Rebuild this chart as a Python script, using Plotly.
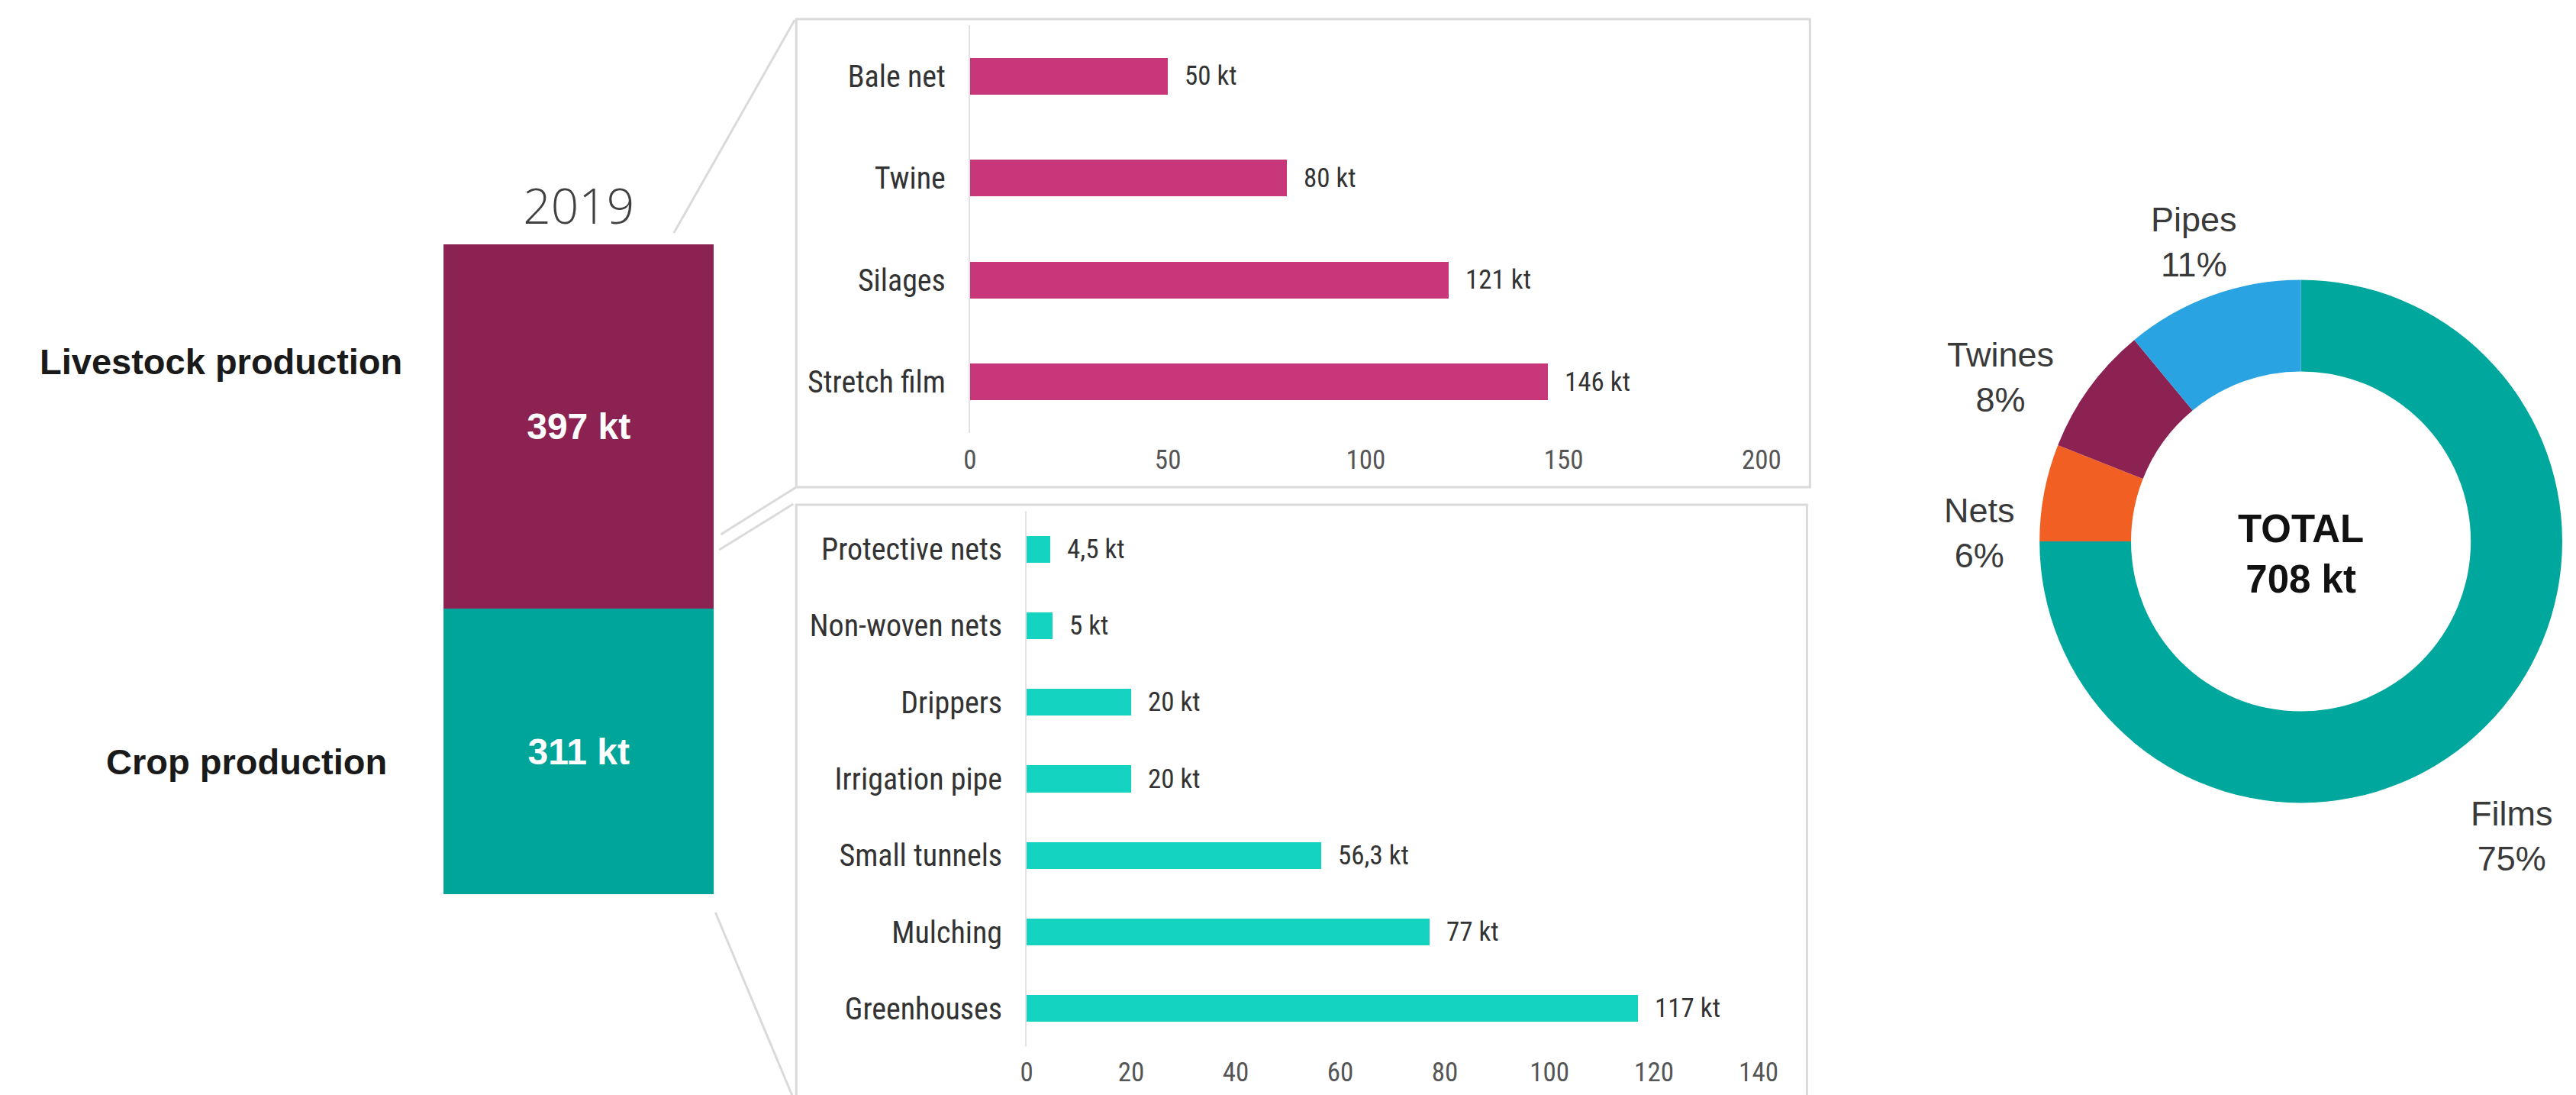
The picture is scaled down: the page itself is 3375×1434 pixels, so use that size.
import plotly.graph_objects as go

W, H = 3375, 1434

# ---------------- data ----------------
year_label = "2019"
stack_categories = ["Crop production", "Livestock production"]
stack_values = [311, 397]
stack_colors = ["#00A599", "#8B2252"]

livestock_items = ["Bale net", "Twine", "Silages", "Stretch film"]
livestock_values = [50, 80, 121, 146]
livestock_text = ["50 kt", "80 kt", "121 kt", "146 kt"]
livestock_ticks = [0, 50, 100, 150, 200]

crop_items = ["Protective nets", "Non-woven nets", "Drippers", "Irrigation pipe",
              "Small tunnels", "Mulching", "Greenhouses"]
crop_values = [4.5, 5, 20, 20, 56.3, 77, 117]
crop_text = ["4,5 kt", "5 kt", "20 kt", "20 kt", "56,3 kt", "77 kt", "117 kt"]
crop_ticks = [0, 20, 40, 60, 80, 100, 120, 140]

pie_labels = ["Films", "Nets", "Twines", "Pipes"]
pie_values = [75, 6, 8, 11]
pie_colors = ["#00A79C", "#F15F22", "#8B2252", "#29A3E1"]

# ---------------- helpers ----------------
def px(x):
    return x / W

def py(y):
    return 1 - y / H

FONT = "Liberation Sans, Arial, sans-serif"
NARROW = "Liberation Sans Narrow, Arial Narrow, Roboto Condensed, Liberation Sans, Arial, sans-serif"
GREY_LINE = "#dadada"

fig = go.Figure()

# ---------------- stacked bar ----------------
for cat, val, col in zip(stack_categories, stack_values, stack_colors):
    fig.add_trace(go.Bar(
        x=[year_label], y=[val], width=[1], name=cat,
        marker=dict(color=col, line=dict(width=0)),
        text=[f"{val} kt"], textposition="inside", insidetextanchor="middle",
        textangle=0,
        textfont=dict(family=FONT, size=48, color="white", weight="bold"),
        xaxis="x", yaxis="y", hoverinfo="skip",
    ))

# ---------------- livestock bars ----------------
fig.add_trace(go.Bar(
    x=livestock_values, y=livestock_items, orientation="h", width=0.36,
    marker=dict(color="#C8377A", line=dict(width=0)),
    xaxis="x2", yaxis="y2", hoverinfo="skip",
))

# ---------------- crop bars ----------------
fig.add_trace(go.Bar(
    x=crop_values, y=crop_items, orientation="h", width=0.35,
    marker=dict(color="#14D3C1", line=dict(width=0)),
    xaxis="x3", yaxis="y3", hoverinfo="skip",
))

# ---------------- donut ----------------
r_out = (W - 2683) / 2
cx = 2683 + r_out
cy = 701
fig.add_trace(go.Pie(
    labels=pie_labels, values=pie_values, sort=False, direction="clockwise",
    rotation=0, hole=0.65, textinfo="none",
    marker=dict(colors=pie_colors, line=dict(width=0)),
    domain=dict(x=[px(2683), 1.0], y=[py(cy + r_out), py(cy - r_out)]),
    hoverinfo="skip",
))

annotations = []
shapes = []

# value labels of the horizontal bars
for v, c, t in zip(livestock_values, livestock_items, livestock_text):
    annotations.append(dict(x=v, y=c, xref="x2", yref="y2", text=t, showarrow=False,
                            xanchor="left", yanchor="middle", xshift=20,
                            font=dict(family=NARROW, size=35, color="#333333")))
for v, c, t in zip(crop_values, crop_items, crop_text):
    annotations.append(dict(x=v, y=c, xref="x3", yref="y3", text=t, showarrow=False,
                            xanchor="left", yanchor="middle", xshift=20,
                            font=dict(family=NARROW, size=35, color="#333333")))

# category labels of the stack
label_pos = {"Livestock production": (517, 465), "Crop production": (497, 989)}
for cat in stack_categories:
    x0, y0 = label_pos[cat]
    annotations.append(dict(x=px(x0), y=py(y0), xref="paper", yref="paper",
                            text=f"<b>{cat}</b>", showarrow=False,
                            xanchor="right", yanchor="middle",
                            font=dict(family=FONT, size=47, color="#1a1a1a")))

# donut labels
pie_pos = {"Films": (3308, 1087), "Nets": (2604, 690), "Twines": (2631, 486), "Pipes": (2887, 309)}
for lab, val in zip(pie_labels, pie_values):
    x0, y0 = pie_pos[lab]
    annotations.append(dict(x=px(x0), y=py(y0), xref="paper", yref="paper",
                            text=f"{lab}<br>{val}%", showarrow=False,
                            xanchor="center", yanchor="middle", align="center",
                            font=dict(family=FONT, size=45, color="#3a3a3a")))

total = sum(stack_values)
annotations.append(dict(x=px(cx), y=py(717), xref="paper", yref="paper",
                        text=f"<b>TOTAL<br>{total} kt</b>", showarrow=False,
                        xanchor="center", yanchor="middle", align="center",
                        font=dict(family=FONT, size=51, color="#111111")))

# panel boxes
shapes.append(dict(type="rect", xref="paper", yref="paper",
                   x0=px(1037), x1=px(2379), y0=py(630), y1=py(17),
                   line=dict(color=GREY_LINE, width=3)))
shapes.append(dict(type="rect", xref="paper", yref="paper",
                   x0=px(1037), x1=px(2375), y0=py(1460), y1=py(653),
                   line=dict(color=GREY_LINE, width=3)))

# connector lines
for (x0, y0, x1, y1) in [(875, 297, 1035, 18), (937, 692, 1037, 630),
                         (935, 712, 1033, 652), (930, 1187, 1033, 1430)]:
    shapes.append(dict(type="line", xref="paper", yref="paper",
                       x0=px(x0), y0=py(y0), x1=px(x1), y1=py(y1),
                       line=dict(color=GREY_LINE, width=3)))

tick_font = dict(family=NARROW, size=35, color="#555555")
cat_font = dict(family=NARROW, size=40, color="#333333")

fig.update_layout(
    width=W, height=H,
    margin=dict(l=0, r=0, t=0, b=0),
    paper_bgcolor="white", plot_bgcolor="rgba(0,0,0,0)",
    showlegend=False, barmode="stack",
    annotations=annotations, shapes=shapes,
    xaxis=dict(domain=[px(570), px(928)], range=[-0.5, 0.5], side="top",
               showline=False, showgrid=False, zeroline=False,
               ticks="outside", ticklen=0, tickcolor="rgba(0,0,0,0)",
               tickfont=dict(family="Open Sans, Liberation Sans, sans-serif", size=64,
                             color="#404040", weight=300),
               fixedrange=True),
    yaxis=dict(domain=[py(1163), py(312)], range=[0, total], visible=False),
    xaxis2=dict(domain=[px(1267), px(2315)], range=[0, 200], anchor="y2",
                tickvals=livestock_ticks, showgrid=False, zeroline=False, showline=False,
                ticks="outside", ticklen=4, tickcolor="rgba(0,0,0,0)", tickfont=tick_font),
    yaxis2=dict(domain=[py(559), py(25)], range=[3.5, -0.5], anchor="x2",
                type="category", categoryorder="array", categoryarray=livestock_items,
                showgrid=False, zeroline=False, showline=True, linecolor="#e3e3e3", linewidth=2,
                ticks="outside", ticklen=22, tickcolor="rgba(0,0,0,0)", tickfont=cat_font),
    xaxis3=dict(domain=[px(1342), px(2311)], range=[0, 140], anchor="y3",
                tickvals=crop_ticks, showgrid=False, zeroline=False, showline=False,
                ticks="outside", ticklen=2, tickcolor="rgba(0,0,0,0)", tickfont=tick_font),
    yaxis3=dict(domain=[py(1363), py(661)], range=[6.5, -0.5], anchor="x3",
                type="category", categoryorder="array", categoryarray=crop_items,
                showgrid=False, zeroline=False, showline=True, linecolor="#e3e3e3", linewidth=2,
                ticks="outside", ticklen=22, tickcolor="rgba(0,0,0,0)", tickfont=cat_font),
)

fig.write_html("out.html")
